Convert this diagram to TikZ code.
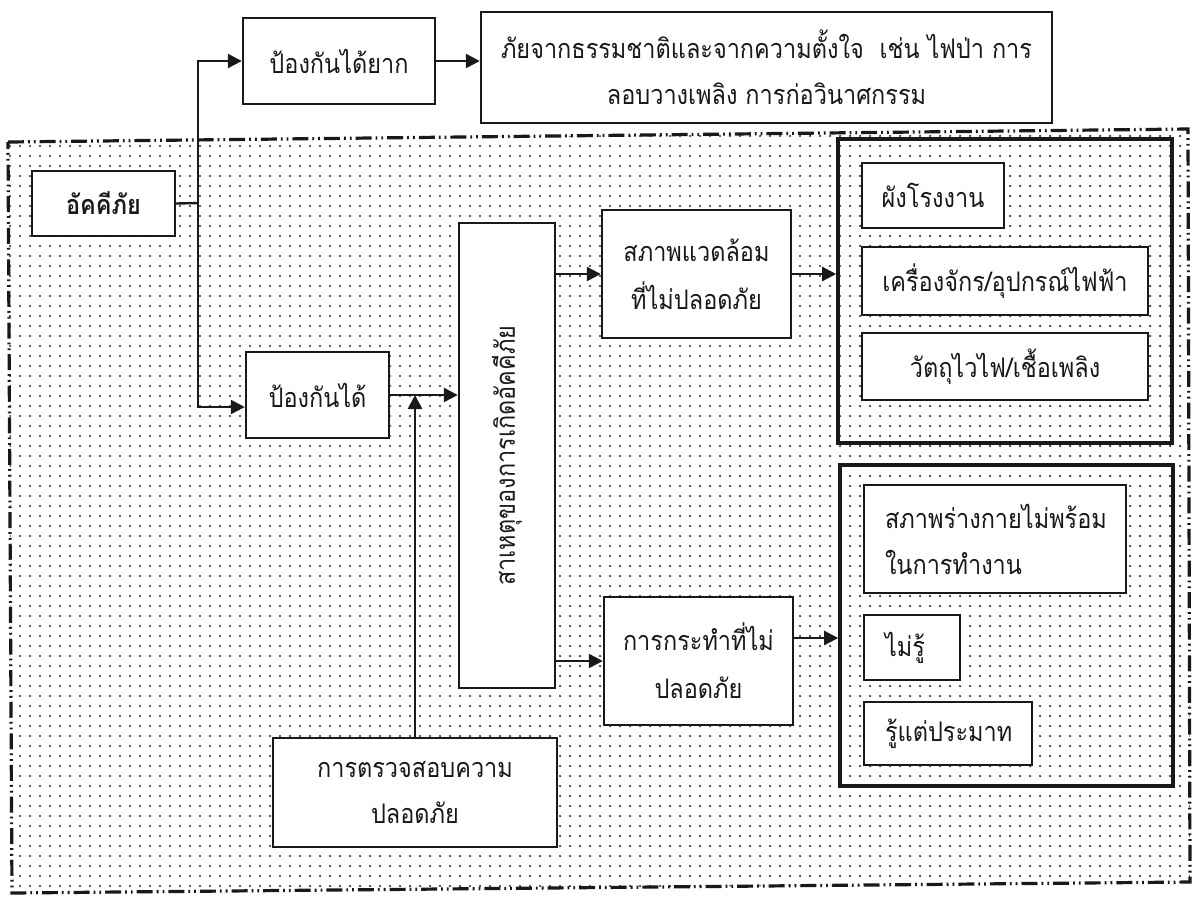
\documentclass[tikz,border=0pt]{standalone}
\usepackage{fontspec}
\usepackage{graphicx}
\newfontfamily\thai[Script=Thai,FakeStretch=0.87]{Loma}
\usetikzlibrary{arrows.meta,patterns.meta,calc}
\begin{document}
\begin{tikzpicture}[x=0.5pt,y=-0.5pt,
  ink/.style={draw=black!90, line width=1.2pt},
  nbox/.style={ink, fill=white, rectangle, inner sep=0pt, align=center,
    text=black!90, font=\thai\fontsize{13.5}{23}\selectfont},
  lbox/.style={nbox, align=left, inner xsep=10.5pt},
  grp/.style={draw=black!90, line width=1.8pt, rectangle, inner sep=0pt, fill=none},
  dframe/.style={draw=black!90, line width=1.6pt,
    dash pattern=on 8pt off 2pt on 0.9pt off 2pt on 0.9pt off 2pt},
  arr/.style={ink, -{Triangle[length=7pt,width=7pt]}}
]
\useasboundingbox (0,0) rectangle (1194,896);
\fill[white] (0,0) rectangle (1194,896);
% dotted frame
\fill[pattern={Dots[distance=5pt,radius=0.62pt]}, pattern color=black!82]
  (8,142) -- (1188,129) -- (1190,882) -- (12,893) -- cycle;
\draw[dframe] (8,142) -- (1188,129) -- (1190,882) -- (12,893) -- cycle;

% top row
\node[nbox, minimum width=96pt, minimum height=43pt] (hard) at (339,61) {ป้องกันได้ยาก};
\node[nbox, minimum width=285.5pt, minimum height=55.5pt] (nat) at (766.5,67.5)
  {ภัยจากธรรมชาติและจากความตั้งใจ~ เช่น ไฟป่า การ\\ลอบวางเพลิง การก่อวินาศกรรม};

% left column
\node[nbox, minimum width=71.5pt, minimum height=32.5pt,
  font=\thai\bfseries\fontsize{13.5}{16}\selectfont] (akk) at (103.5,203.5) {อัคคีภัย};
\node[nbox, minimum width=71.5pt, minimum height=43pt] (prev) at (317.5,395) {ป้องกันได้};
\node[nbox, minimum width=142pt, minimum height=54.5pt] (check) at (415,792.5)
  {การตรวจสอบความ\\ปลอดภัย};

% tall cause box
\node[nbox, minimum width=48pt, minimum height=232.5pt] (cause) at (507,455.5)
  {\rotatebox{90}{สาเหตุของการเกิดอัคคีภัย}};

% middle column
\node[nbox, minimum width=94.5pt, minimum height=64pt,
  font=\thai\fontsize{13.5}{24}\selectfont] (env) at (696.5,274)
  {สภาพแวดล้อม\\ที่ไม่ปลอดภัย};
\node[nbox, minimum width=94.5pt, minimum height=64pt,
  font=\thai\fontsize{13.5}{24}\selectfont] (act) at (698.5,661)
  {การกระทำที่ไม่\\ปลอดภัย};

% right groups
\node[grp, minimum width=167pt, minimum height=152pt] (g1) at (1005,291) {};
\node[grp, minimum width=166.5pt, minimum height=160.5pt] (g2) at (1006.5,625.5) {};

\node[nbox, minimum width=71pt, minimum height=32.5pt] (b1) at (933,195.5) {ผังโรงงาน};
\node[nbox, minimum width=143pt, minimum height=34pt] (b2) at (1005,281) {เครื่องจักร/อุปกรณ์ไฟฟ้า};
\node[nbox, minimum width=143pt, minimum height=33.5pt] (b3) at (1005,366.5) {วัตถุไวไฟ/เชื้อเพลิง};

\node[lbox, text width=110pt, minimum height=54pt] (c1) at (995,539)
  {สภาพร่างกายไม่พร้อม\\ในการทำงาน};
\node[lbox, text width=27pt, minimum height=32.5pt] (c2) at (912,647.5) {ไม่รู้};
\node[lbox, text width=63pt, minimum height=31.5pt] (c3) at (948,733.5) {รู้แต่ประมาท};

% connectors
\coordinate (j1) at (198,203);
\draw[ink] (akk.east) -- (j1);
\draw[arr] (j1) |- (hard.west);
\draw[arr] (j1) |- ([yshift=-6pt]prev.west);
\draw[arr] (hard.east) -- (hard.east -| nat.west);
\draw[arr] (prev.east) -- (prev.east -| cause.west);
\draw[arr] (check.north) -- (check.north |- prev.east);
\draw[arr] (cause.east |- env.west) -- (env.west);
\draw[arr] (cause.east |- act.west) -- (act.west);
\draw[arr] (env.east) -- (env.east -| g1.west);
\draw[arr] ([yshift=11.5pt]act.east) -- ([yshift=11.5pt]act.east -| g2.west);
\end{tikzpicture}
\end{document}
